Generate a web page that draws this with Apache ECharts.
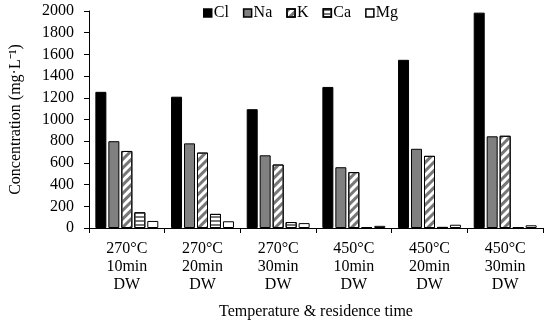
<!DOCTYPE html>
<html><head><meta charset="utf-8">
<script src="https://cdn.jsdelivr.net/npm/echarts@6/dist/echarts.min.js"></script>
<style>html,body{margin:0;padding:0;background:#fff}#c{width:550px;height:326px}</style>
</head><body><div id="c"></div>
<script>
var categories = ['270°C\n10min\nDW','270°C\n20min\nDW','270°C\n30min\nDW','450°C\n10min\nDW','450°C\n20min\nDW','450°C\n30min\nDW'];
var seriesNames = ['Cl','Na','K','Ca','Mg'];
var cl = [1255, 1210, 1095, 1300, 1550, 1985];
var na = [800, 780, 670, 560, 730, 845];
var k  = [710, 695, 585, 515, 665, 850];
var ca = [145, 130, 55, 8, 10, 5];
var mg = [65, 62, 45, 20, 30, 25];
var yTicks = [0,200,400,600,800,1000,1200,1400,1600,1800,2000];

var font = 'Liberation Serif';
var values = [cl, na, k, ca, mg];
var styles = [
  {color:'#000', borderColor:'#000', borderWidth:1},
  {color:'#808080', borderColor:'#000', borderWidth:1},
  {color:'#fff', borderColor:'#000', borderWidth:1,
   decal:{symbol:'rect', symbolSize:1, dashArrayX:[[1,0]], dashArrayY:[3,3], rotation:-Math.PI/4, color:'#777'}},
  {color:'#fff', borderColor:'#000', borderWidth:1,
   decal:{symbol:'rect', symbolSize:1, dashArrayX:[[1,0]], dashArrayY:[2,2], rotation:0, color:'#777'}},
  {color:'#fff', borderColor:'#000', borderWidth:1}
];
var series = seriesNames.map(function(n,i){
  return {name:n, type:'bar', data:values[i], barWidth:11, barGap:'18%', barCategoryGap:'20%',
    itemStyle:styles[i], emphasis:{disabled:true}};
});
var chart = echarts.init(document.getElementById('c'), null, {renderer:'canvas'});
chart.setOption({
  animation:false,
  backgroundColor:'#fff',
  textStyle:{fontFamily:font},
  legend:{top:0, left:198, itemWidth:8, itemHeight:8, itemGap:14, icon:'rect',
    itemStyle:{borderColor:'#000', borderWidth:1.5},
    textStyle:{fontFamily:font, fontSize:16, color:'#000', padding:[0,0,0,-3]},
    data:seriesNames},
  grid:{left:86, right:7, top:11, bottom:98},
  xAxis:{type:'category', data:categories,
    axisLine:{lineStyle:{color:'#000'}},
    axisTick:{show:true, length:5, lineStyle:{color:'#000'}, alignWithLabel:false},
    axisLabel:{fontFamily:font, fontSize:16, color:'#000', lineHeight:18, margin:12, interval:0},
    name:'Temperature & residence time', nameLocation:'middle', nameGap:76,
    nameTextStyle:{fontFamily:font, fontSize:16, color:'#000'}},
  yAxis:{type:'value', min:yTicks[0], max:yTicks[yTicks.length-1], interval:200,
    axisLine:{show:true, lineStyle:{color:'#000'}},
    axisTick:{show:true, length:5, lineStyle:{color:'#000'}},
    splitLine:{show:false},
    axisLabel:{fontFamily:font, fontSize:16, color:'#000', margin:15, formatter:function(v){return String(v);}},
    name:'Concentration (mg·L⁻¹)', nameLocation:'middle', nameGap:65,
    nameTextStyle:{fontFamily:font, fontSize:16, color:'#000'}},
  series:series
});
</script></body></html>
